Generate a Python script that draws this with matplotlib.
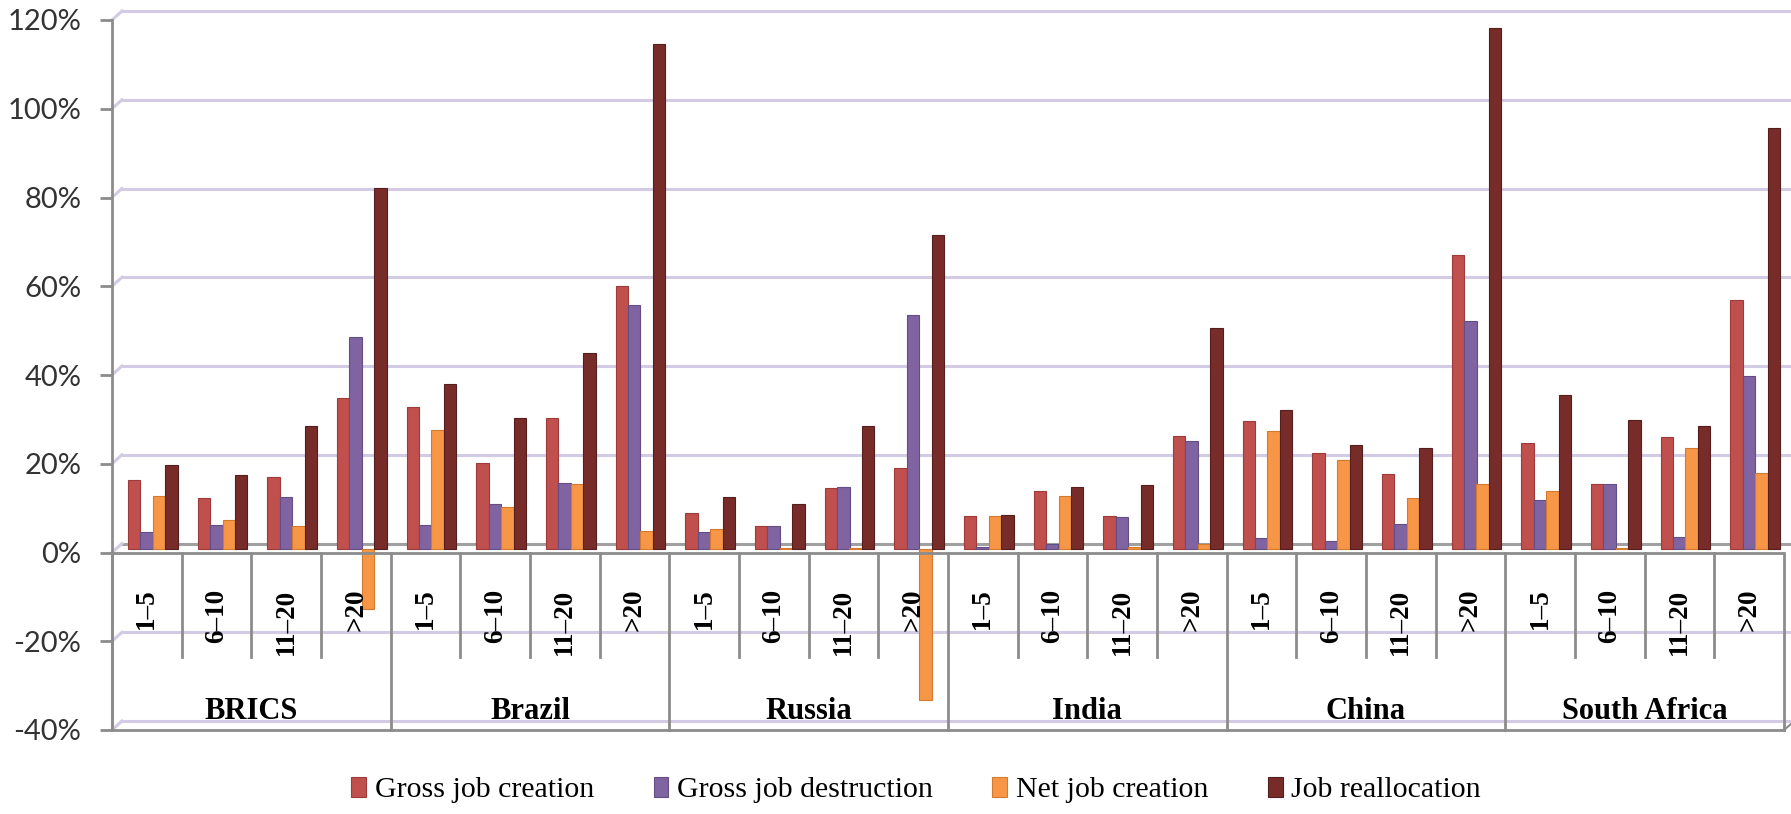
import numpy as np
import matplotlib
matplotlib.use('Agg')
import matplotlib.pyplot as plt
from matplotlib.transforms import ScaledTranslation

# Data (% of employment)
countries = ['BRICS', 'Brazil', 'Russia', 'India', 'China', 'South Africa']
sizes = ['1\u20135', '6\u201310', '11\u201320', '>20']
series_names = ['Gross job creation', 'Gross job destruction', 'Net job creation', 'Job reallocation']

gross_creation = [15.4, 11.4, 16.2, 34.0, 31.9, 19.3, 29.3, 59.1, 8.0, 5.1, 13.7, 18.1,
                  7.4, 12.9, 7.4, 25.3, 28.7, 21.5, 16.9, 66.1, 23.7, 14.5, 25.1, 55.9]
gross_destruction = [3.7, 5.3, 11.6, 47.6, 5.2, 10.0, 14.7, 54.9, 3.8, 5.1, 13.8, 52.7,
                     0.3, 1.0, 7.1, 24.3, 2.4, 1.7, 5.6, 51.3, 10.9, 14.5, 2.6, 38.8]
net_creation = [11.9, 6.4, 5.0, -13.7, 26.7, 9.4, 14.5, 4.0, 4.3, 0.2, 0.2, -34.2,
                7.4, 11.9, 0.4, 1.0, 26.5, 19.9, 11.3, 14.6, 12.9, 0.2, 22.7, 17.0]
reallocation = [18.8, 16.5, 27.6, 81.2, 37.0, 29.3, 44.0, 113.7, 11.7, 10.0, 27.5, 70.7,
                7.6, 13.9, 14.3, 49.6, 31.2, 23.3, 22.7, 117.4, 34.6, 28.9, 27.5, 94.7]

yticks = [-40, -20, 0, 20, 40, 60, 80, 100, 120]

colors = ['#C0504D', '#8064A2', '#F79646', '#772C2A']
edges = ['#9C3B39', '#644C84', '#D27A30', '#551E1C']
grid_col = '#D3CAE3'
axis_col = '#8C8C8C'

W, H, DPI = 1791, 814, 100
fig = plt.figure(figsize=(W / DPI, H / DPI), dpi=DPI)
# plot area: y axis at x=112px, right end 1784px; 120% at 20px, -40% at 730px
ax = fig.add_axes([112 / W, 1 - 730 / H, (1784 - 112) / W, 710 / H])
n = len(countries) * len(sizes)
ax.set_xlim(0, n)
ax.set_ylim(-40, 120)
for s in ax.spines.values():
    s.set_visible(False)

# back wall gridlines (3D depth offset)
back = ax.transData + ScaledTranslation(10 / DPI, 9 / DPI, fig.dpi_scale_trans)
ppx = n / (1784 - 112)          # data units per pixel in x
ppy = 160 / 710                 # data units per pixel in y
for v in yticks:
    c = '#A0A0A0' if v == 0 else grid_col
    ax.plot([0, n + 7 * ppx], [v, v], color=c, lw=2.2, transform=back, clip_on=False, zorder=1)
    ax.plot([0, 10 * ppx], [v, v + 9 * ppy], color=grid_col, lw=2.2, clip_on=False, zorder=1)

# bars
x = np.arange(n) + 0.5
bw = 0.178
mid = ax.transData + ScaledTranslation(6 / DPI, 4 / DPI, fig.dpi_scale_trans)
all_series = [gross_creation, gross_destruction, net_creation, reallocation]
for k, vals in enumerate(all_series):
    bars = ax.bar(x + (k - 1.5) * bw, vals, width=bw, color=colors[k], edgecolor=edges[k],
                  linewidth=0.8, label=series_names[k], zorder=3)
    for b in bars:
        b.set_transform(mid)

# axes lines
ax.plot([0, 0], [-40, 120], color=axis_col, lw=2, clip_on=False, zorder=4)
ax.plot([0, n], [0, 0], color=axis_col, lw=2, zorder=4)
ax.plot([0, n], [-40, -40], color=axis_col, lw=2, clip_on=False, zorder=4)
ax.plot([n, n + 7 * ppx], [-40, -40 + 6 * ppy], color=axis_col, lw=1.5, clip_on=False, zorder=4)
ax.set_yticks(yticks)
ax.set_yticklabels([f'{v}%' for v in yticks], fontsize=21, family='Lato', color='#333333')
ax.tick_params(axis='y', length=9, width=2, color=axis_col, pad=13)
ax.set_xticks([])

# category separators and labels
sub_bottom = 0 - (657 - 553) * ppy
for i in range(n + 1):
    yb = -40 if i % len(sizes) == 0 else sub_bottom
    ax.plot([i, i], [0, yb], color=axis_col, lw=2, clip_on=False, zorder=4)
lab_top = -(589 - 553) * ppy
for i in range(n):
    ax.text(x[i], lab_top, sizes[i % len(sizes)], rotation=90, ha='center', va='top',
            fontsize=19.5, fontweight='bold', family='Liberation Serif', zorder=5)
for j, c in enumerate(countries):
    ax.text(j * len(sizes) + len(sizes) / 2, -(712 - 553) * ppy, c, ha='center', va='center',
            fontsize=22, fontweight='bold', family='Liberation Serif', zorder=5)

fig.legend(loc='center', bbox_to_anchor=(916 / W, 1 - 790 / H), ncol=4, frameon=False,
           prop={'family': 'Liberation Serif', 'size': 21.5}, handlelength=0.5,
           handleheight=0.7, handletextpad=0.28, columnspacing=2.0)

fig.savefig('out.png', dpi=DPI)
